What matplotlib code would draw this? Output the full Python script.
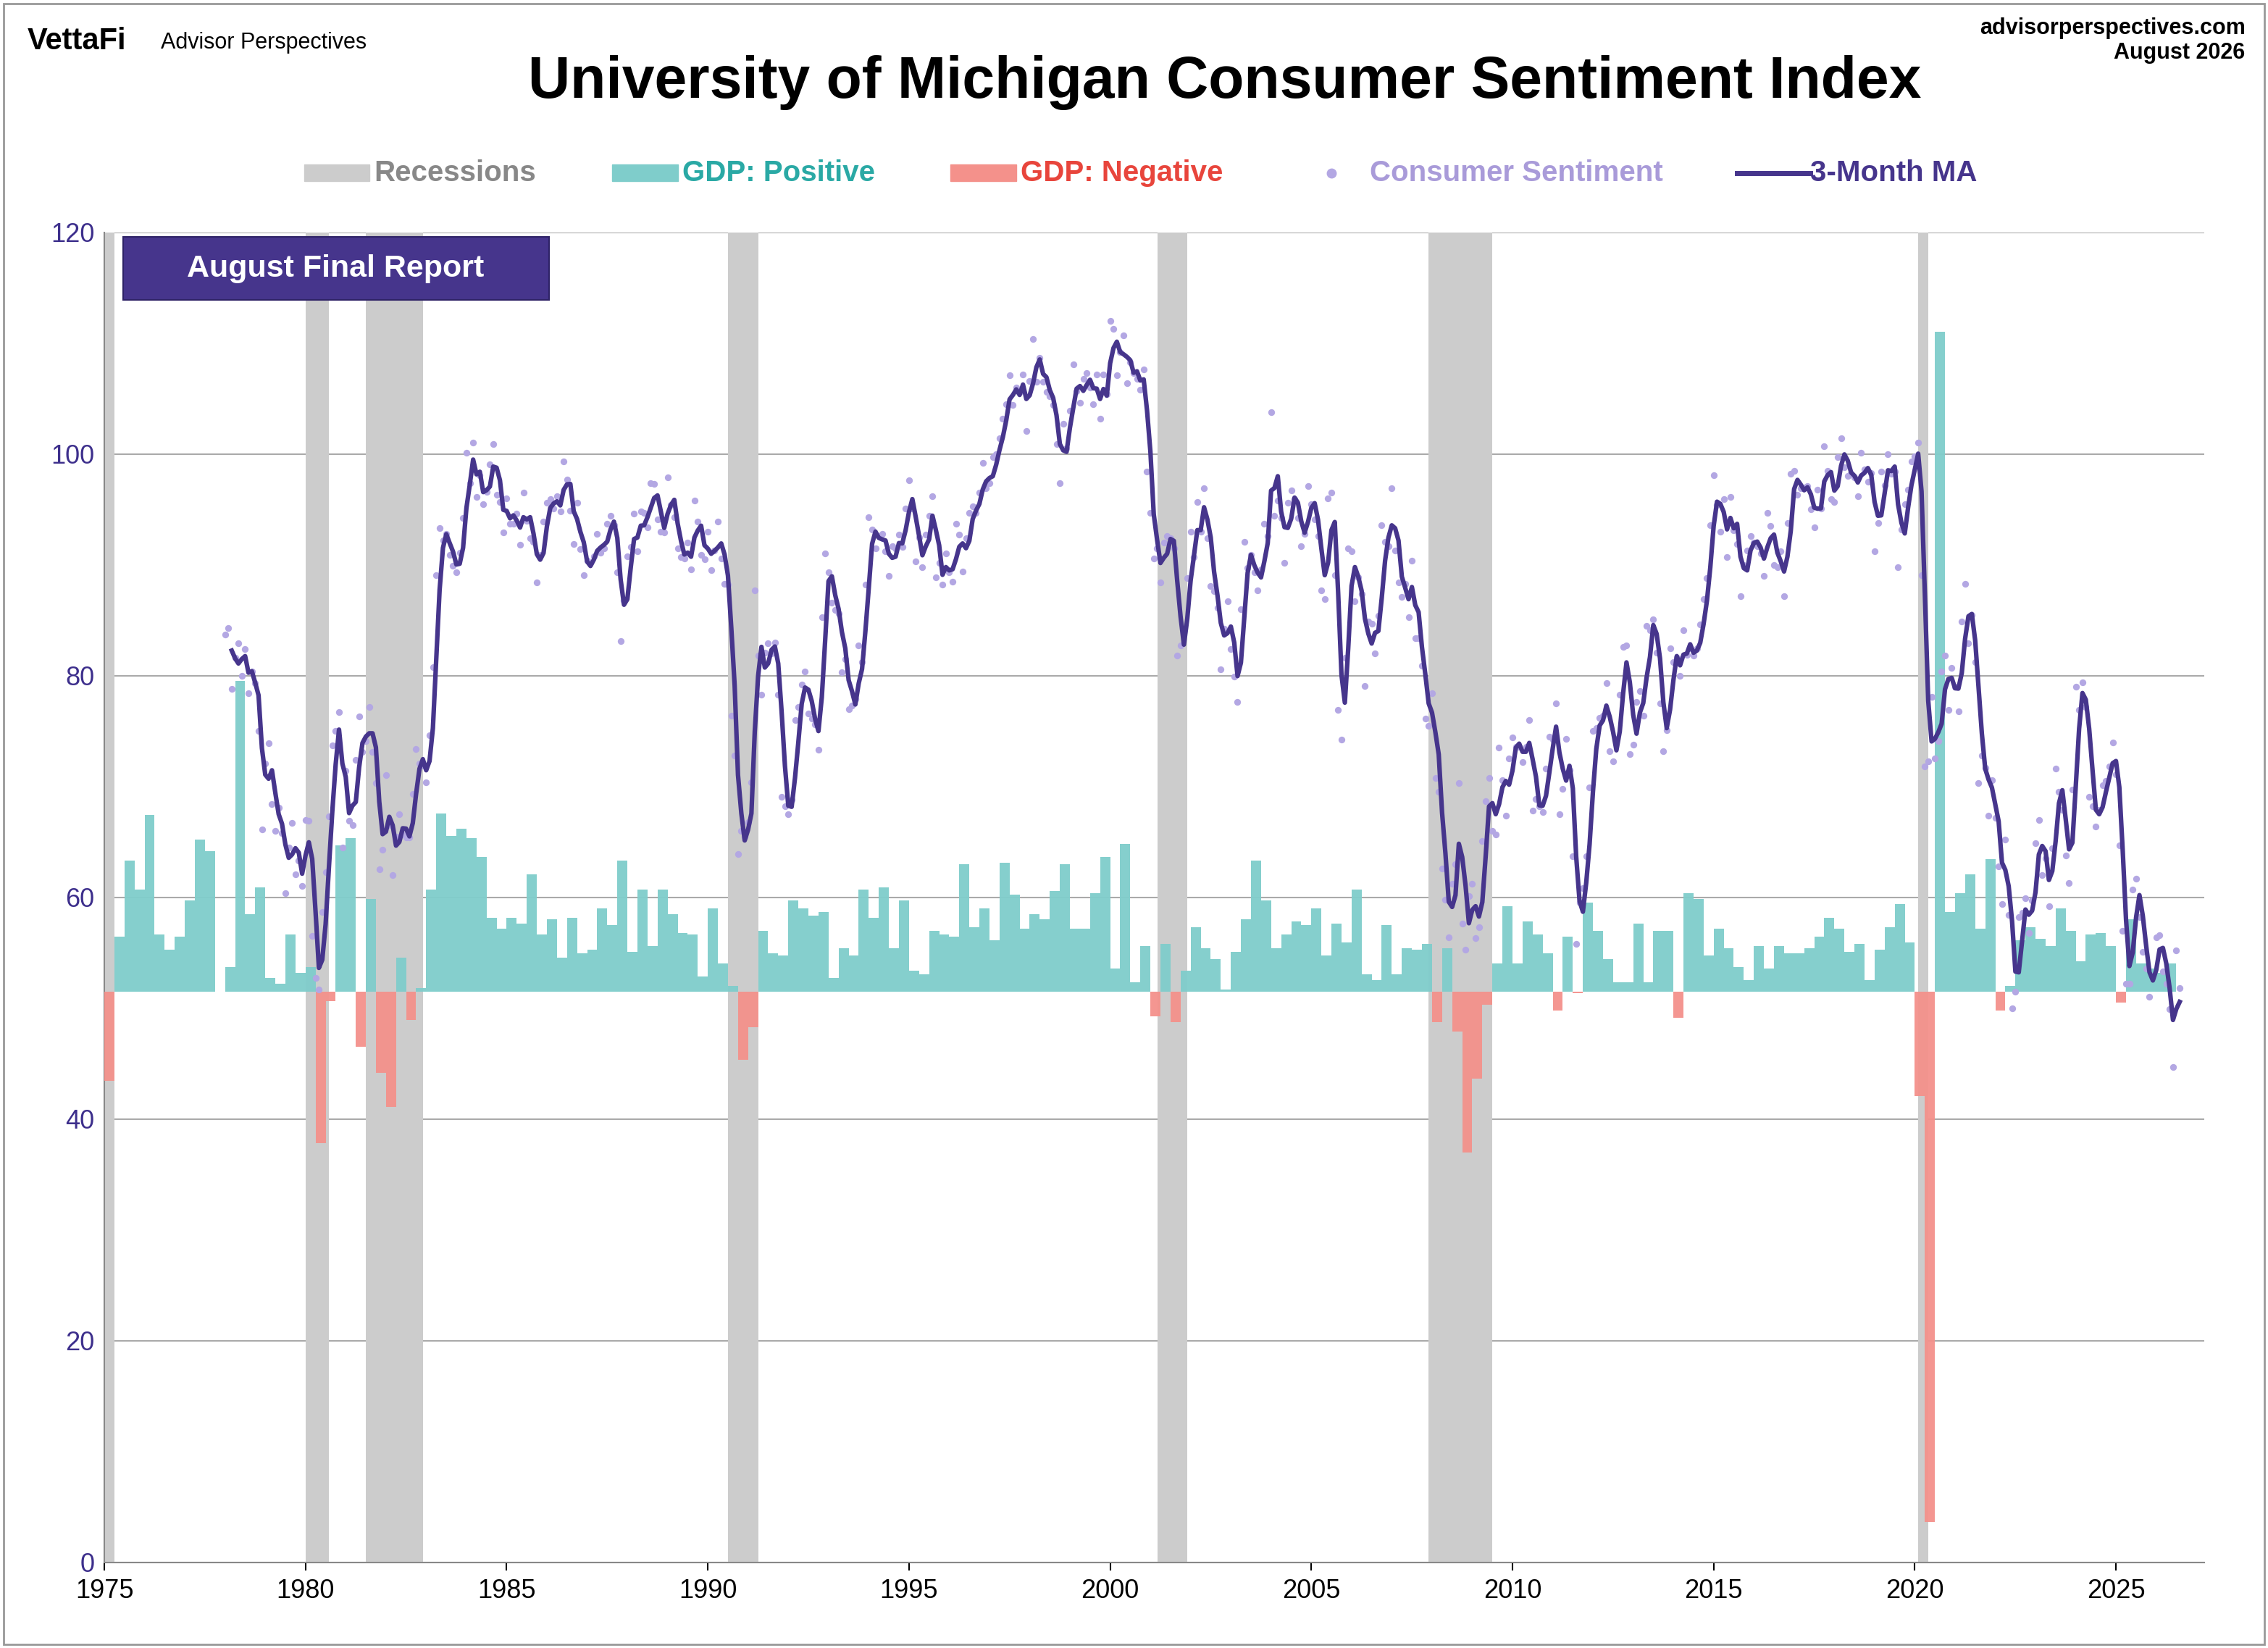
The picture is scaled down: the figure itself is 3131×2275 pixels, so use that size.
import numpy as np
import pandas as pd
import matplotlib
matplotlib.use("Agg")
import matplotlib.pyplot as plt
from matplotlib.patches import Rectangle

plt.rcParams['font.family'] = ['Liberation Sans', 'DejaVu Sans']

sentiment_by_year = {
1978: [83.7,84.3,78.8,81.6,82.9,80.0,82.4,78.4,80.4,79.3,75.0,66.1],
1979: [72.1,73.9,68.4,66.0,68.1,65.8,60.4,64.5,66.7,62.1,63.3,61.0],
1980: [67.0,66.9,56.5,52.7,51.7,58.7,62.3,67.3,73.7,75.0,76.7,64.5],
1981: [71.4,66.9,66.5,72.4,76.3,73.1,74.1,77.2,73.1,70.3,62.5,64.3],
1982: [71.0,66.5,62.0,65.5,67.5,65.7,65.4,65.4,69.3,73.4,72.1,71.9],
1983: [70.4,74.6,80.8,89.1,93.3,92.2,92.8,90.9,89.9,89.3,91.1,94.2],
1984: [100.1,97.4,101.0,96.1,98.1,95.5,96.6,99.1,100.9,96.3,95.7,92.9],
1985: [96.0,93.7,93.7,94.6,91.8,96.5,94.0,92.4,92.1,88.4,90.9,93.9],
1986: [95.6,95.9,95.1,96.2,94.8,99.3,97.7,94.9,91.9,95.6,91.4,89.1],
1987: [90.4,90.2,90.8,92.8,91.1,91.5,93.7,94.4,93.6,89.3,83.1,86.8],
1988: [90.8,91.6,94.6,91.2,94.8,94.7,93.4,97.4,97.3,94.1,93.0,92.9],
1989: [97.9,95.4,94.3,91.5,90.7,90.6,92.0,89.6,95.8,93.9,90.9,90.5],
1990: [93.0,89.5,91.3,93.9,90.6,88.3,88.2,76.4,72.8,63.9,66.0,65.5],
1991: [66.8,70.4,87.7,81.8,78.3,82.1,82.9,82.0,83.0,78.3,69.1,68.2],
1992: [67.5,68.8,76.0,77.2,79.2,80.4,76.6,76.1,75.6,73.3,85.3,91.0],
1993: [89.3,86.6,85.9,85.6,80.3,81.5,77.0,77.3,77.9,82.7,81.2,88.2],
1994: [94.3,93.2,91.5,92.6,92.8,91.2,89.0,91.7,91.5,92.7,91.6,95.1],
1995: [97.6,95.1,90.3,92.5,89.8,92.7,94.4,96.2,88.9,90.2,88.2,91.0],
1996: [89.3,88.5,93.7,92.7,89.4,92.4,94.7,95.3,94.7,96.5,99.2,96.9],
1997: [97.4,99.7,100.0,101.4,103.2,104.5,107.1,104.4,106.0,105.6,107.2,102.1],
1998: [106.6,110.4,106.5,108.7,106.5,105.6,105.2,104.4,100.9,97.4,102.7,100.5],
1999: [103.9,108.1,105.7,104.6,106.8,107.3,106.0,104.5,107.2,103.2,107.2,105.4],
2000: [112.0,111.3,107.1,109.2,110.7,106.4,108.3,107.3,106.8,105.8,107.6,98.4],
2001: [94.7,90.6,91.5,88.4,92.0,92.6,92.4,91.5,81.8,82.7,83.9,88.8],
2002: [93.0,90.7,95.7,93.0,96.9,92.4,88.1,87.6,86.1,80.6,84.2,86.7],
2003: [82.4,79.9,77.6,86.0,92.1,89.7,90.9,89.3,87.7,89.6,93.7,92.6],
2004: [103.8,94.4,95.8,94.2,90.2,95.6,96.7,95.9,94.2,91.7,92.8,97.1],
2005: [95.5,94.1,92.6,87.7,86.9,96.0,96.5,89.1,76.9,74.2,81.6,91.5],
2006: [91.2,86.7,88.9,87.4,79.1,84.9,84.7,82.0,85.4,93.6,92.1,91.7],
2007: [96.9,91.3,88.4,87.1,88.3,85.3,90.4,83.4,83.4,80.9,76.1,75.5],
2008: [78.4,70.8,69.5,62.6,59.8,56.4,61.2,63.0,70.3,57.6,55.3,60.1],
2009: [61.2,56.3,57.3,65.1,68.7,70.8,66.0,65.7,73.5,70.6,67.4,72.5],
2010: [74.4,73.6,73.6,72.2,73.6,76.0,67.8,68.9,68.2,67.7,71.6,74.5],
2011: [74.2,77.5,67.5,69.8,74.3,71.5,63.7,55.8,59.5,60.8,63.7,69.9],
2012: [75.0,75.3,76.2,76.4,79.3,73.2,72.3,74.3,78.3,82.6,82.7,72.9],
2013: [73.8,77.6,78.6,76.4,84.5,84.1,85.1,82.1,77.5,73.2,75.1,82.5],
2014: [81.2,81.6,80.0,84.1,81.9,82.5,81.8,82.5,84.6,86.9,88.8,93.6],
2015: [98.1,95.4,93.0,95.9,90.7,96.1,93.1,91.9,87.2,90.0,91.3,92.6],
2016: [92.0,91.7,91.0,89.0,94.7,93.5,90.0,89.8,91.2,87.2,93.8,98.2],
2017: [98.5,96.3,96.9,97.0,97.1,95.0,93.4,96.8,95.1,100.7,98.5,95.9],
2018: [95.7,99.7,101.4,98.8,98.0,98.2,97.9,96.2,100.1,98.6,97.5,98.3],
2019: [91.2,93.8,98.4,97.2,100.0,98.2,98.4,89.8,93.2,95.5,96.8,99.3],
2020: [99.8,101.0,89.1,71.8,72.3,78.1,72.5,74.1,80.4,81.8,76.9,80.7],
2021: [79.0,76.8,84.9,88.3,82.9,85.5,81.2,70.3,72.8,71.7,67.4,70.6],
2022: [67.2,62.8,59.4,65.2,58.4,50.0,51.5,58.2,58.6,59.9,56.8,59.7],
2023: [64.9,67.0,62.0,63.5,59.2,64.4,71.6,69.5,67.9,63.8,61.3,69.7],
2024: [79.0,76.9,79.4,77.2,69.1,68.2,66.4,67.9,70.1,70.5,71.8,74.0],
2025: [71.1,64.7,57.0,52.2,52.2,60.7,61.7,58.2,55.1,53.6,51.0,52.9],
2026: [56.4,56.6,53.3,52.2,49.9,44.7,55.2,51.8],
}

gdp_by_year = {
1975: [-4.7,2.9,6.9,5.4], 1976: [9.3,3.0,2.2,2.9], 1977: [4.8,8.0,7.4,0.0],
1978: [1.3,16.4,4.1,5.5], 1979: [0.7,0.4,3.0,1.0], 1980: [1.3,-8.0,-0.5,7.7],
1981: [8.1,-2.9,4.9,-4.3], 1982: [-6.1,1.8,-1.5,0.2], 1983: [5.4,9.4,8.2,8.6],
1984: [8.1,7.1,3.9,3.3], 1985: [3.9,3.6,6.2,3.0], 1986: [3.8,1.8,3.9,2.0],
1987: [2.2,4.4,3.5,6.9], 1988: [2.1,5.4,2.4,5.4], 1989: [4.1,3.1,3.0,0.8],
1990: [4.4,1.5,0.3,-3.6], 1991: [-1.9,3.2,2.0,1.9], 1992: [4.8,4.4,4.0,4.2],
1993: [0.7,2.3,1.9,5.4], 1994: [3.9,5.5,2.3,4.8], 1995: [1.1,0.9,3.2,3.0],
1996: [2.9,6.7,3.4,4.4], 1997: [2.7,6.8,5.1,3.3], 1998: [4.1,3.8,5.3,6.7],
1999: [3.3,3.3,5.2,7.1], 2000: [1.2,7.8,0.5,2.4], 2001: [-1.3,2.5,-1.6,1.1],
2002: [3.4,2.3,1.7,0.1], 2003: [2.1,3.8,6.9,4.8], 2004: [2.3,3.0,3.7,3.5],
2005: [4.4,1.9,3.6,2.6], 2006: [5.4,0.9,0.6,3.5], 2007: [0.9,2.3,2.2,2.5],
2008: [-1.6,2.3,-2.1,-8.5], 2009: [-4.6,-0.7,1.5,4.5], 2010: [1.5,3.7,3.0,2.0],
2011: [-1.0,2.9,-0.1,4.7], 2012: [3.2,1.7,0.5,0.5], 2013: [3.6,0.5,3.2,3.2],
2014: [-1.4,5.2,4.9,1.9], 2015: [3.3,2.3,1.3,0.6], 2016: [2.4,1.2,2.4,2.0],
2017: [2.0,2.3,2.9,3.9], 2018: [3.3,2.1,2.5,0.6], 2019: [2.2,3.4,4.6,2.6],
2020: [-5.5,-28.0,34.8,4.2], 2021: [5.2,6.2,3.3,7.0], 2022: [-1.0,0.3,2.7,3.4],
2023: [2.8,2.4,4.4,3.2], 2024: [1.6,3.0,3.1,2.4], 2025: [-0.6,3.8,1.5,1.2],
2026: [1.0,1.5],
}

recessions = [(1973.83, 1975.25), (1980.0, 1980.58), (1981.5, 1982.92),
              (1990.5, 1991.25), (2001.17, 2001.92), (2007.92, 2009.5), (2020.08, 2020.33)]

s_x, s_y = [], []
for yr, vals in sentiment_by_year.items():
    for m, v in enumerate(vals):
        s_x.append(yr + m / 12); s_y.append(v)
s_x = np.array(s_x); s_y = np.array(s_y)
ma = pd.Series(s_y).rolling(3).mean().values

g_x, g_y = [], []
for yr, vals in gdp_by_year.items():
    for q, v in enumerate(vals):
        g_x.append(yr + q / 4); g_y.append(v)
g_x = np.array(g_x); g_y = np.array(g_y)

W, H = 3131, 2275
fig = plt.figure(figsize=(W/100, H/100), dpi=100)
fig.patch.set_facecolor('white')
fig.add_artist(Rectangle((0.0015, 0.002), 0.997, 0.996, transform=fig.transFigure,
                         fill=False, ec='#999999', lw=2))

ax = fig.add_axes([0.046, 0.052, 0.926, 0.807])
ax.set_xlim(1975, 2027.2)
ax.set_ylim(0, 120)

for a, b in recessions:
    ax.axvspan(max(a, 1975), b, color='#cccccc', zorder=1, lw=0)

ax2 = ax.twinx()
base, scale = 51.5, 1.71
ax2.set_ylim((0 - base) / scale, (120 - base) / scale)
ax2.axis('off')
colors = ['#7fcdcb' if v >= 0 else '#f4918b' for v in g_y]
ax2.bar(g_x, g_y, width=0.25, align='edge', color=colors, alpha=0.95, zorder=2, lw=0)

ax3 = ax.twinx()
ax3.set_ylim(0, 120)
ax3.axis('off')
ax3.scatter(s_x, s_y, s=45, color='#b3a7e3', zorder=3, lw=0)
ax3.plot(s_x, ma, color='#46358c', lw=4.5, zorder=4)

ax.set_yticks(range(0, 121, 20))
ax.set_xticks(range(1975, 2026, 5))
ax.grid(axis='y', color='#aaaaaa', lw=1.5)
ax.set_axisbelow(True)
ax.tick_params(axis='y', labelsize=26, labelcolor='#3d2f8c', length=0, pad=10)
ax.tick_params(axis='x', labelsize=26, labelcolor='black', length=8, width=1.5, pad=8)
for sp in ['top', 'right']:
    ax.spines[sp].set_visible(False)
for sp in ['left', 'bottom']:
    ax.spines[sp].set_color('#888888'); ax.spines[sp].set_linewidth(1.5)

fig.text(0.54, 0.95, 'University of Michigan Consumer Sentiment Index', ha='center',
         va='center', fontsize=58, fontweight='bold')
fig.text(0.012, 0.975, 'VettaFi', fontsize=30, fontweight='bold', va='center')
fig.text(0.071, 0.974, 'Advisor Perspectives', fontsize=22, va='center')
fig.text(0.99, 0.983, 'advisorperspectives.com', fontsize=22, fontweight='bold', ha='right', va='center')
fig.text(0.99, 0.968, 'August 2026', fontsize=22, fontweight='bold', ha='right', va='center')

ly = 0.895
items = [(0.134, 'Recessions', '#cccccc', '#888888', 'bar'),
         (0.270, 'GDP: Positive', '#7fcdcb', '#2aa9a5', 'bar'),
         (0.419, 'GDP: Negative', '#f4918b', '#e8453c', 'bar'),
         (0.584, 'Consumer Sentiment', '#b3a7e3', '#a99bd9', 'dot'),
         (0.766, '3-Month MA', '#46358c', '#46358c', 'line')]
for x, lab, c, tc, kind in items:
    if kind == 'bar':
        fig.add_artist(Rectangle((x, ly - 0.005), 0.029, 0.01, transform=fig.transFigure, color=c))
        fig.text(x + 0.031, ly, lab, fontsize=29, fontweight='bold', color=tc, va='center')
    elif kind == 'dot':
        fig.add_artist(plt.Line2D([x + 0.003], [ly], marker='o', ms=9, color=c, lw=0,
                                  transform=fig.transFigure))
        fig.text(x + 0.02, ly, lab, fontsize=29, fontweight='bold', color=tc, va='center')
    else:
        fig.add_artist(plt.Line2D([x, x + 0.032], [ly, ly], color=c, lw=5, transform=fig.transFigure))
        fig.text(x + 0.032, ly, lab, fontsize=29, fontweight='bold', color=tc, va='center')

ax3.add_patch(Rectangle((0.009, 0.949), 0.2026, 0.0477, transform=ax.transAxes,
                        fc='#46358c', ec='#2e2266', lw=1.5, zorder=10))
ax3.text(0.110, 0.9728, 'August Final Report', transform=ax.transAxes, fontsize=31,
         fontweight='bold', color='white', va='center', ha='center', zorder=11)

fig.savefig('out.png', dpi=100)
